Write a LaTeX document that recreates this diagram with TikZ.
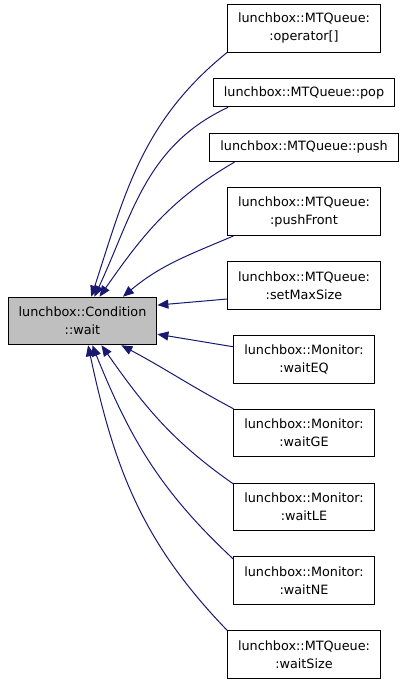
\documentclass[tikz,border=0pt]{standalone}
\usepackage{fontspec}
\setmainfont{DejaVu Sans}
\usetikzlibrary{positioning,arrows.meta}
\definecolor{edgeblue}{HTML}{191970}
\definecolor{nodegray}{HTML}{BFBFBF}

\begin{document}
\begin{tikzpicture}[
    x=1pt, y=1pt,
    every node/.style={font=\fontsize{12.8}{18}\selectfont},
    member/.style={rectangle, draw, line width=1pt, align=center, inner xsep=10.5pt, inner ysep=0pt, minimum height=28.5pt}, % caller boxes
    twoline/.style={member, minimum height=47.5pt}, % boxes with wrapped names
    current/.style={twoline, fill=nodegray}, % the function itself
    dep/.style={draw=edgeblue, line width=1pt, -{Triangle[length=11pt,width=9pt]}},
    node distance=25.3pt
]
\useasboundingbox (0,0) rectangle (405,-681);
\node[current] (cond) at (82.5,-321) {lunchbox::Condition\\::wait};

\node[twoline, anchor=north] (opr) at (304,-4) {lunchbox::MTQueue:\\:operator[]};
\node[member, below=of opr] (pop) {lunchbox::MTQueue::pop};
\node[member, below=of pop] (push) {lunchbox::MTQueue::push};
\node[twoline, below=of push] (pfront) {lunchbox::MTQueue:\\:pushFront};
\node[twoline, below=of pfront] (setmax) {lunchbox::MTQueue:\\:setMaxSize};
\node[twoline, below=of setmax] (waiteq) {lunchbox::Monitor:\\:waitEQ};
\node[twoline, below=of waiteq] (waitge) {lunchbox::Monitor:\\:waitGE};
\node[twoline, below=of waitge] (waitle) {lunchbox::Monitor:\\:waitLE};
\node[twoline, below=of waitle] (waitne) {lunchbox::Monitor:\\:waitNE};
\node[twoline, below=of waitne] (wsize) {lunchbox::MTQueue:\\:waitSize};

% callers above
\draw[dep] (opr.south west) to[out=219,in=72] (cond.70);
\draw[dep] (pop.191) to[out=205,in=65] (cond.64);
\draw[dep] (push.192) to[out=210,in=55] (cond.55);
\draw[dep] (pfront.199) to[out=203,in=40] (cond.31);
\draw[dep] (setmax.190) -- (cond.12);
% callers below
\draw[dep] (waiteq.170) -- (cond.-10);
\draw[dep] (waitge.161) to[out=152,in=-28] (cond.-32);
\draw[dep] (waitle.162) to[out=145,in=-55] (cond.-52);
\draw[dep] (waitne.163) to[out=137,in=-68] (cond.-68);
\draw[dep] (wsize.north west) to[out=134,in=-78] (cond.-77);
\end{tikzpicture}
\end{document}
